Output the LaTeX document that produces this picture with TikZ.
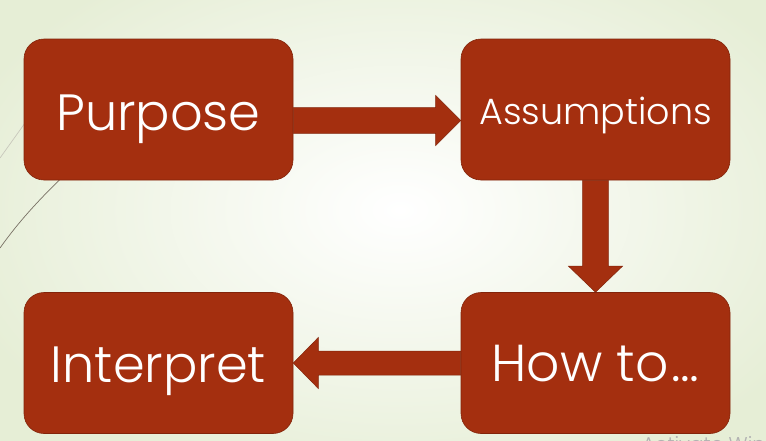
\documentclass[tikz,border=0pt]{standalone}
\usepackage{fontspec}
\IfFontExistsTF{Poppins Light}{\setmainfont{Poppins Light}}{\setmainfont{Poppins}}
\usetikzlibrary{calc}
\definecolor{bggreen}{RGB}{230,238,214}
\definecolor{boxfill}{RGB}{164,47,15}
\definecolor{boxline}{RGB}{130,36,10}
\definecolor{lineA}{RGB}{200,200,188}
\definecolor{lineB}{RGB}{120,112,100}
\tikzset{
  stagebox/.style={draw=boxline, line width=0.6pt, fill=boxfill, rounded corners=20pt,
    minimum width=269pt, minimum height=141pt, inner sep=0pt, text=white,
    font=\fontsize{51}{60}\selectfont, text depth=0pt},
  blockarrow/.style={fill=boxfill, draw=boxline, line width=0.5pt, line join=miter},
  deco/.style={line width=0.7pt}
}
\begin{document}
\begin{tikzpicture}[x=1pt,y=-1pt]
\useasboundingbox (0,0) rectangle (766,440);
\shade[inner color=white, outer color=bggreen] (-60,-80) rectangle (860,500);
% decorative theme lines
\draw[deco, lineA] (0,158) -- (70,60);
\draw[deco, lineB] (0,248) .. controls (20,220) and (40,198) .. (80,160);
% boxes
\node[stagebox, text height=41pt] (p) at (158.5,109.5) {Purpose};
\node[stagebox, text height=29.6pt, font=\fontsize{36.5}{44}\selectfont] (a) at (595.5,109.5) {Assumptions};
\node[stagebox, text height=37.4pt, font=\fontsize{52}{60}\selectfont] (h) at (595.5,363) {How to\kern3pt…};
\node[stagebox, text height=39.4pt] (i) at (158.5,363) {Interpret};
% arrow Purpose -> Assumptions
\coordinate (ta) at ($(p.east)+(0,11)$);
\coordinate (tb) at (a.west |- ta);
\path[blockarrow] ($(ta)+(0,-12.8)$) -- ($(tb)+(-25,-12.8)$) -- ($(tb)+(-25,-25)$) -- (tb)
  -- ($(tb)+(-25,25)$) -- ($(tb)+(-25,12.8)$) -- ($(ta)+(0,12.8)$) -- cycle;
% arrow Assumptions -> How to
\coordinate (da) at (a.south);
\coordinate (db) at (h.north);
\path[blockarrow] ($(da)+(-12.8,0)$) -- ($(db)+(-12.8,-26)$) -- ($(db)+(-27,-26)$) -- (db)
  -- ($(db)+(27,-26)$) -- ($(db)+(12.8,-26)$) -- ($(da)+(12.8,0)$) -- cycle;
% arrow How to -> Interpret
\coordinate (la) at (h.west);
\coordinate (lb) at (i.east);
\path[blockarrow] ($(la)+(0,-12)$) -- ($(lb)+(25,-12)$) -- ($(lb)+(25,-25.5)$) -- (lb)
  -- ($(lb)+(25,25.5)$) -- ($(lb)+(25,12)$) -- ($(la)+(0,12)$) -- cycle;
% watermark
\node[anchor=north west, inner sep=0pt, text=black!30, font=\fontsize{20}{24}\selectfont] (wm) at (642,436) {Activate Windows};
\end{tikzpicture}
\end{document}
